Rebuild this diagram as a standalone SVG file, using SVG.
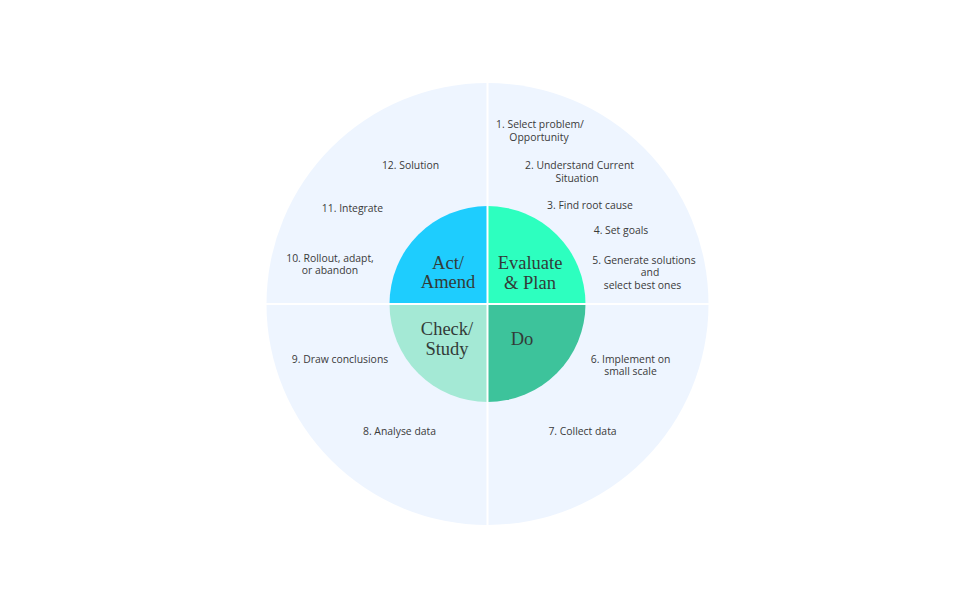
<svg xmlns="http://www.w3.org/2000/svg" width="980" height="605" viewBox="0 0 980 605">
  <style>
    .lbl { font-family: "Open Sans", "Noto Sans", sans-serif; font-size: 10.4px; fill: #3a3a3a; text-anchor: middle; }
    .big { font-family: "Liberation Serif", "DejaVu Serif", serif; font-size: 18.5px; fill: #333b38; text-anchor: middle; }
    .div { stroke: #ffffff; stroke-width: 2; fill: none; }
  </style>
  <rect width="980" height="605" fill="#ffffff"/>
  <g id="outer-ring">
    <circle cx="487.5" cy="304" r="221" fill="#eef5ff"/>
  </g>
  <g id="act-amend">
    <path d="M487.5,304 L389.5,304 A98,98 0 0 1 487.5,206 Z" fill="#1ecdfe"/>
    <text class="big" x="448" y="269">Act/</text>
    <text class="big" x="448" y="288">Amend</text>
  </g>
  <g id="evaluate-plan">
    <path d="M487.5,304 L487.5,206 A98,98 0 0 1 585.5,304 Z" fill="#2dffbf"/>
    <text class="big" x="530" y="269">Evaluate</text>
    <text class="big" x="530" y="289">&amp; Plan</text>
  </g>
  <g id="do">
    <path d="M487.5,304 L585.5,304 A98,98 0 0 1 487.5,402 Z" fill="#3dc39b"/>
    <text class="big" x="522" y="345">Do</text>
  </g>
  <g id="check-study">
    <path d="M487.5,304 L487.5,402 A98,98 0 0 1 389.5,304 Z" fill="#a4e9d5"/>
    <text class="big" x="447" y="335">Check/</text>
    <text class="big" x="447" y="355">Study</text>
  </g>
  <g id="connectors">
    <line class="div" x1="487.5" y1="80" x2="487.5" y2="528"/>
    <line class="div" x1="262" y1="304" x2="712" y2="304"/>
  </g>
  <g id="step-1"><text class="lbl" x="540" y="127.5">1. Select problem/</text><text class="lbl" x="539" y="140.5">Opportunity</text></g>
  <g id="step-2"><text class="lbl" x="579.5" y="168.5">2. Understand Current</text><text class="lbl" x="577" y="181.5">Situation</text></g>
  <g id="step-3"><text class="lbl" x="590" y="208.5">3. Find root cause</text></g>
  <g id="step-4"><text class="lbl" x="621" y="233.5">4. Set goals</text></g>
  <g id="step-5"><text class="lbl" x="644" y="263.5">5. Generate solutions</text><text class="lbl" x="650" y="276">and</text><text class="lbl" x="642.5" y="288.5">select best ones</text></g>
  <g id="step-6"><text class="lbl" x="630.5" y="362.5">6. Implement on</text><text class="lbl" x="630.5" y="375">small scale</text></g>
  <g id="step-7"><text class="lbl" x="582.5" y="434.5">7. Collect data</text></g>
  <g id="step-8"><text class="lbl" x="399.5" y="434.5">8. Analyse data</text></g>
  <g id="step-9"><text class="lbl" x="340" y="362.5">9. Draw conclusions</text></g>
  <g id="step-10"><text class="lbl" x="330" y="261.5">10. Rollout, adapt,</text><text class="lbl" x="330" y="274">or abandon</text></g>
  <g id="step-11"><text class="lbl" x="352.5" y="211.5">11. Integrate</text></g>
  <g id="step-12"><text class="lbl" x="410.5" y="168.5">12. Solution</text></g>
</svg>
